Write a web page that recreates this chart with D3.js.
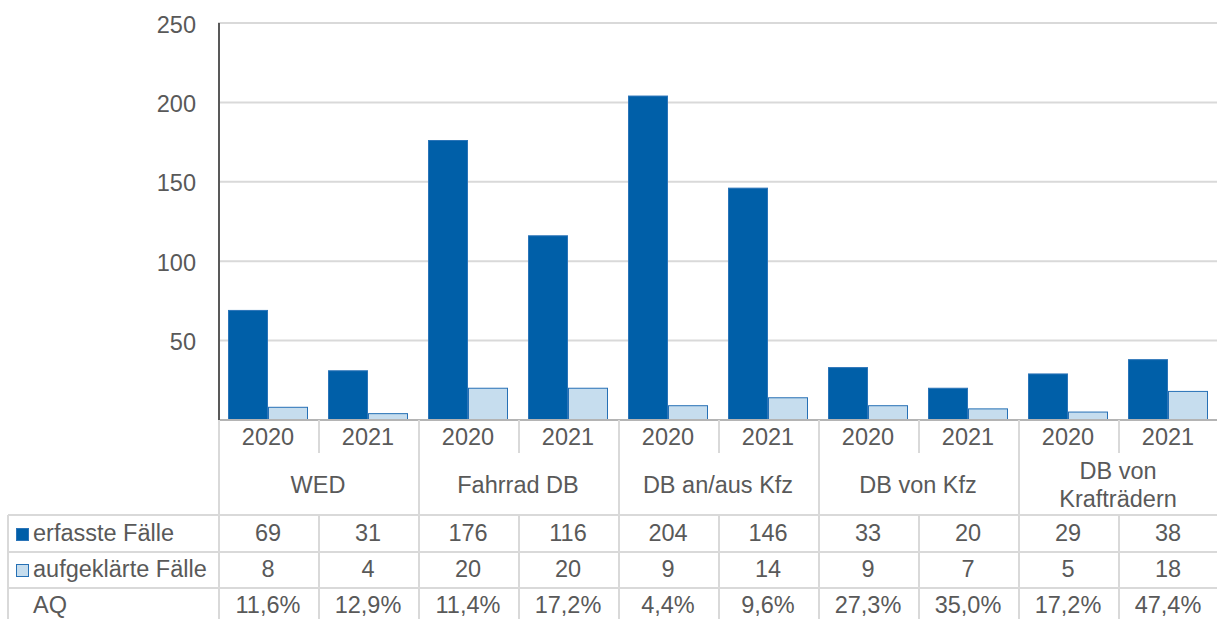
<!DOCTYPE html>
<html>
<head>
<meta charset="utf-8" />
<title>erfasste und aufgeklärte Fälle</title>
<style>
html, body {
	margin:0;
	padding:0;
	background:#ffffff;
}
svg {
	display:block;
	font-family: 'Liberation Sans', Arial, sans-serif;
}
</style>
</head>
<body>

<script src="https://cdn.jsdelivr.net/npm/d3@7/dist/d3.min.js"></script>
<script>

//=======================================
// data
//=======================================

let categoryLines = [['WED'], ['Fahrrad DB'], ['DB an/aus Kfz'], ['DB von Kfz'], ['DB von', 'Krafträdern']],
		years = ['2020', '2021'],
		erfasst = [69, 31, 176, 116, 204, 146, 33, 20, 29, 38],
		aufgeklaert = [8, 4, 20, 20, 9, 14, 9, 7, 5, 18],
		aqLabels = ['11,6%', '12,9%', '11,4%', '17,2%', '4,4%', '9,6%', '27,3%', '35,0%', '17,2%', '47,4%'],
		yTicks = [50, 100, 150, 200, 250];

let seriesKeys = ['erfasst', 'aufgeklaert'],
		seriesNames = {erfasst:'erfasste Fälle', aufgeklaert:'aufgeklärte Fälle'};

// one entry per column (category x year)
let columns = erfasst.map((d,i)=>({
	i: i,
	year: years[i % years.length],
	erfasst: d,
	aufgeklaert: aufgeklaert[i],
	aq: aqLabels[i]
}));


//=======================================
// layout
//=======================================

let width = 1217,
		height = 619,
		plotLeft = 218,
		plotRight = 1218,
		plotTop = 23,
		plotBottom = 420,
		rowYear = [420, 453],
		rowData = [515, 552, 588, 619],
		tableLeft = 8,
		fontSize = 23.5,
		textColor = '#595959',
		lineColor = '#d9d9d9',
		styles = {
			erfasst:     {fill:'#005fa8', stroke:'#2b74b8'},
			aufgeklaert: {fill:'#c6ddee', stroke:'#2670b5'}
		};

let x = d3.scaleBand().domain(columns.map(d=>d.i)).range([plotLeft, plotRight]),
		xInner = d3.scaleBand().domain(seriesKeys).range([0, x.bandwidth()]).paddingInner(0).paddingOuter(0.25),
		y = d3.scaleLinear().domain([0, 250]).range([plotBottom, plotTop]),
		groupSize = years.length;


let svg = d3.select('body')
	.append('svg')
		.attr('width', width)
		.attr('height', height)
		.attr('viewBox', [0, 0, width, height].join(' '));


//=====================
// grid
//=====================
svg.append('g').attr('class','grid')
	.selectAll('line').data(yTicks)
		.enter()
			.append('line')
				.attr('x1', plotLeft)
				.attr('x2', width)
				.attr('y1', d=>y(d))
				.attr('y2', d=>y(d))
				.attr('stroke', lineColor)
				.attr('stroke-width', 2);


//=====================
// y axis
//=====================
svg.append('g').attr('class','y-axis')
	.attr('transform', 'translate(' + [plotLeft, 0] + ')')
	.call(d3.axisLeft(y).tickValues(yTicks).tickSize(0).tickPadding(22))
	.call(sel=>{
		sel.attr('font-family', null).attr('font-size', fontSize);
		sel.select('.domain').remove();
		sel.selectAll('text')
			.attr('fill', textColor)
			.attr('dy', null)
			.attr('y', 9);
	});


//=====================
// bars
//=====================
svg.append('g').attr('class','bars')
	.selectAll('g').data(columns)
		.enter()
			.append('g')
				.attr('transform', d=>'translate(' + [x(d.i), 0] + ')')
				.call(sel=>{
					seriesKeys.forEach(k=>{
						sel.append('rect')
							.attr('class', k)
							.attr('x', xInner(k) + 0.5)
							.attr('width', xInner.bandwidth() - 1)
							.attr('y', d=>y(d[k]))
							.attr('height', d=>y(0) - y(d[k]))
							.attr('fill', styles[k].fill)
							.attr('stroke', styles[k].stroke)
							.attr('stroke-width', 1);
					});
				});


//=====================
// axes lines
//=====================
svg.append('line')
	.attr('x1', plotLeft).attr('x2', width)
	.attr('y1', y(0)).attr('y2', y(0))
	.attr('stroke', '#b4b4b4')
	.attr('stroke-width', 2);

svg.append('line')
	.attr('x1', plotLeft + 1).attr('x2', plotLeft + 1)
	.attr('y1', plotTop).attr('y2', y(0))
	.attr('stroke', textColor)
	.attr('stroke-width', 2);


//=====================
// table
//=====================
let table = svg.append('g').attr('class','table')
	.attr('font-size', fontSize)
	.attr('fill', textColor);

// vertical separators
table.selectAll('line.v').data(columns)
	.enter()
		.append('line')
			.attr('class','v')
			.attr('x1', d=>x(d.i) + 1)
			.attr('x2', d=>x(d.i) + 1)
			.attr('y1', rowYear[0])
			.attr('y2', d=>d.i % groupSize == 0 ? height : rowYear[1])
			.attr('stroke', lineColor)
			.attr('stroke-width', 2);

table.selectAll('line.vd').data(columns.filter(d=>d.i % groupSize != 0))
	.enter()
		.append('line')
			.attr('class','vd')
			.attr('x1', d=>x(d.i) + 1)
			.attr('x2', d=>x(d.i) + 1)
			.attr('y1', rowData[0])
			.attr('y2', height)
			.attr('stroke', lineColor)
			.attr('stroke-width', 2);

table.append('line')
	.attr('x1', tableLeft).attr('x2', tableLeft)
	.attr('y1', rowData[0]).attr('y2', height)
	.attr('stroke', lineColor)
	.attr('stroke-width', 2);

// horizontal separators
table.selectAll('line.h').data(rowData.slice(0, 3))
	.enter()
		.append('line')
			.attr('class','h')
			.attr('x1', tableLeft)
			.attr('x2', width)
			.attr('y1', d=>d)
			.attr('y2', d=>d)
			.attr('stroke', lineColor)
			.attr('stroke-width', 2);

// years
table.selectAll('text.year').data(columns)
	.enter()
		.append('text')
			.attr('class','year')
			.attr('text-anchor','middle')
			.attr('x', d=>x(d.i) + x.bandwidth()/2)
			.attr('y', 445)
			.text(d=>d.year);

// categories
table.selectAll('text.cat').data(categoryLines)
	.enter()
		.append('text')
			.attr('class','cat')
			.attr('text-anchor','middle')
			.attr('x', (d,i)=>x(i*groupSize) + x.bandwidth()*groupSize/2)
			.attr('y', d=>d.length > 1 ? 479 : 493)
			.selectAll('tspan').data(d=>d)
				.enter()
					.append('tspan')
						.attr('x', function() { return this.parentNode.getAttribute('x'); })
						.attr('dy', (d,i)=>i ? 27.7 : 0)
						.text(d=>d);

// data rows
let rows = [
	{key:'erfasst', label:seriesNames.erfasst, value:d=>d.erfasst, base:541},
	{key:'aufgeklaert', label:seriesNames.aufgeklaert, value:d=>d.aufgeklaert, base:577},
	{key:'aq', label:'AQ', value:d=>d.aq, base:613}
];

rows.forEach(r=>{

	if (styles[r.key]) {
		table.append('rect')
			.attr('x', 16.5)
			.attr('y', r.base - 12.5)
			.attr('width', 12)
			.attr('height', 12)
			.attr('fill', styles[r.key].fill)
			.attr('stroke', styles[r.key].stroke)
			.attr('stroke-width', 1);
	}

	table.append('text')
		.attr('x', 33)
		.attr('y', r.base)
		.text(r.label);

	table.selectAll('text.' + r.key).data(columns)
		.enter()
			.append('text')
				.attr('class', r.key)
				.attr('text-anchor','middle')
				.attr('x', d=>x(d.i) + x.bandwidth()/2)
				.attr('y', r.base)
				.text(r.value);
});

</script>
</body>
</html>
